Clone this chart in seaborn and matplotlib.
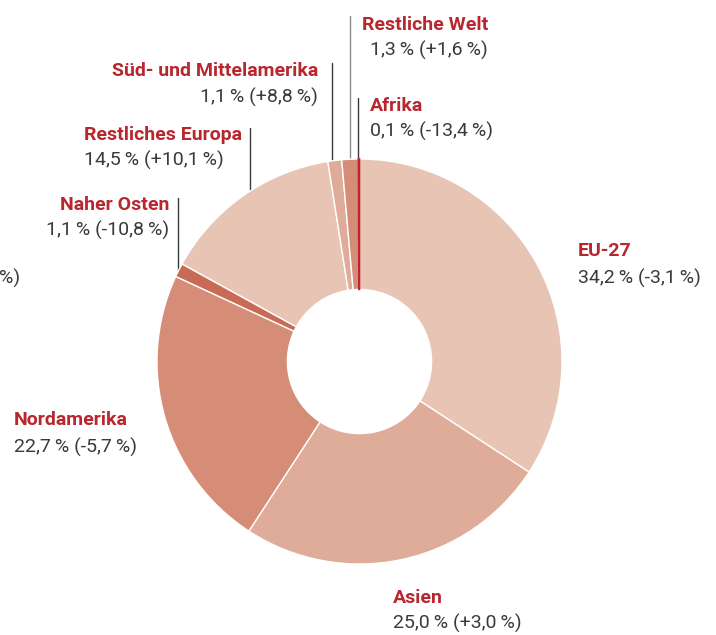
import numpy as np
import matplotlib
matplotlib.use("Agg")
import matplotlib.pyplot as plt
from matplotlib import font_manager
import seaborn as sns

# Anteile am Export nach Region (in %), Veränderung zum Vorjahr (in %)
regionen = ["EU-27", "Asien", "Nordamerika", "Naher Osten", "Restliches Europa",
            "Süd- und Mittelamerika", "Restliche Welt", "Afrika"]
anteile = [34.2, 25.0, 22.7, 1.1, 14.5, 1.1, 1.3, 0.1]
veraenderung = [-3.1, 3.0, -5.7, -10.8, 10.1, 8.8, 1.6, -13.4]

farben = ["#e8c4b5", "#dfac99", "#d58d78", "#c96a55",
          "#e8c4b5", "#dfac99", "#d58d78", "#c0252e"]

namen = sorted({f.name for f in font_manager.fontManager.ttflist})

sns.set_theme(style="white")
schrift = "Liberation Sans Narrow" if "Liberation Sans Narrow" in namen else "Roboto"
plt.rcParams["font.family"] = [schrift, "DejaVu Sans"]

ROT = "#b8262e"
GRAU = "#3a3a3a"
W, H = 716, 635
CX, CY, R = 359.5, 361.5, 202.5


def fmt(v, vorzeichen=False):
    s = f"{v:+.1f}" if vorzeichen else f"{v:.1f}"
    return s.replace(".", ",") + "\u2009%"


fig = plt.figure(figsize=(W / 100, H / 100), dpi=100)
ax = fig.add_axes([0, 0, 1, 1])

keile, _ = ax.pie(anteile, colors=farben, startangle=90, counterclock=False,
                  center=(CX, H - CY), radius=R, frame=True,
                  wedgeprops=dict(width=R * 0.644, edgecolor="white", linewidth=1.0))
# sehr schmales Segment (Afrika) sichtbar halten
keile[-1].set_edgecolor(farben[-1])
keile[-1].set_linewidth(1.2)
keile[-1].set_zorder(3)

ax.set_xlim(0, W)
ax.set_ylim(0, H)
ax.axis("off")

# Beschriftung: x, y Titel, y Wert, Ausrichtung (Pixel von oben)
beschriftung = {
    "EU-27": (578, 251, 278, "left"),
    "Asien": (393, 598, 623, "left"),
    "Nordamerika": (14, 420, 447, "left"),
    "Naher Osten": (169, 205, 230, "right"),
    "Restliches Europa": (84, 135, 160, "left"),
    "Süd- und Mittelamerika": (318, 71, 97, "right"),
    "Restliche Welt": (488, 25, 50, "right"),
    "Afrika": (370, 106, 131, "left"),
}

# Hinweislinien: x, y oben, Farbe
linien = {
    "Naher Osten": (178, 198, GRAU),
    "Restliches Europa": (250, 128, GRAU),
    "Süd- und Mittelamerika": (332, 63, GRAU),
    "Restliche Welt": (350, 16, "#8a8a8a"),
    "Afrika": (358, 98, GRAU),
}

for name, anteil, diff in zip(regionen, anteile, veraenderung):
    x, yt, yw, ha = beschriftung[name]
    ax.text(x, H - yt, name, color=ROT, fontsize=14, fontweight="bold",
            ha=ha, va="center")
    ax.text(x, H - yw, f"{fmt(anteil)} ({fmt(diff, diff > 0)})", color=GRAU,
            fontsize=14, ha=ha, va="center")
    if name in linien:
        lx, ly, lc = linien[name]
        y_rand = CY - np.sqrt(R ** 2 - (lx - CX) ** 2)
        ax.plot([lx, lx], [H - ly, H - y_rand], color=lc, lw=1.0, zorder=0)

# abgeschnittene Beschriftung am linken Rand
ax.text(20, H - 278, "%)", color=GRAU, fontsize=14, ha="right", va="center")

fig.savefig("out.png", dpi=100)
